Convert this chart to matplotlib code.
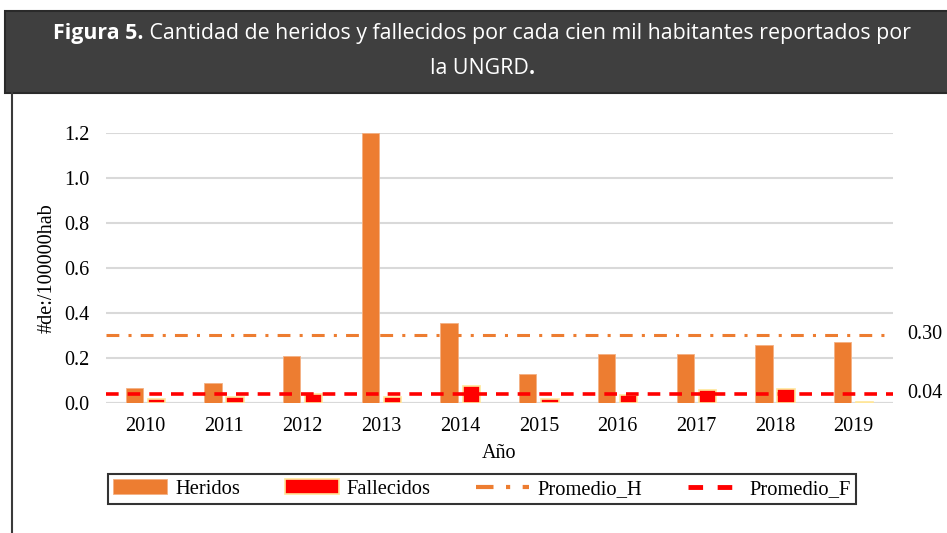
import numpy as np
import matplotlib.pyplot as plt
from matplotlib.patches import Rectangle
from matplotlib.lines import Line2D

# data
years = ["2010", "2011", "2012", "2013", "2014", "2015", "2016", "2017", "2018", "2019"]
heridos = [0.067, 0.089, 0.21, 1.20, 0.355, 0.13, 0.22, 0.22, 0.26, 0.27]
fallecidos = [0.016, 0.027, 0.039, 0.028, 0.074, 0.019, 0.034, 0.056, 0.061, 0.006]
promedio_h = 0.304
promedio_f = 0.04
right_labels = ["0.30", "0.04"]

orange = "#ED7D31"
red = "#FF0000"
serif = ["Liberation Serif", "DejaVu Serif"]
title_font = ["Open Sans", "DejaVu Sans"]

fig = plt.figure(figsize=(9.47, 5.33), dpi=100)
W, H = 947, 533

# header band
fig.patches.append(Rectangle((5 / W, 1 - 93 / H), 1, 82 / H, transform=fig.transFigure,
                             facecolor="#3F3F3F", edgecolor="#2A2A2A", lw=1.5))
# left border line
fig.add_artist(Line2D([12 / W, 12 / W], [0, 1 - 93 / H], transform=fig.transFigure,
                      color="#3A3A3A", lw=1.5))

# title: bold prefix + regular text, centred as one line, sized to the reference width
fs = 15.4
tb = fig.text(0, 1 - 34 / H, "Figura 5.", color="white", fontsize=fs,
              family=title_font, weight="bold", ha="left", va="center")
tr = fig.text(0, 1 - 34 / H,
              " Cantidad de heridos y fallecidos por cada cien mil habitantes reportados por",
              color="white", fontsize=fs, family=title_font, ha="left", va="center")
fig.canvas.draw()
wb = tb.get_window_extent().width
wr = tr.get_window_extent().width
x0 = 482 - (wb + wr) / 2
tb.set_x(x0 / W)
tr.set_x((x0 + wb) / W)

t2a = fig.text(0, 1 - 69 / H, "la UNGRD", color="white", fontsize=fs,
               family=title_font, ha="left", va="center")
t2b = fig.text(0, 1 - 69 / H, ".", color="white", fontsize=fs,
               family=title_font, weight="bold", ha="left", va="center")
fig.canvas.draw()
wa = t2a.get_window_extent().width
wd = t2b.get_window_extent().width
x1 = 482 - (wa + wd) / 2
t2a.set_x(x1 / W)
t2b.set_x((x1 + wa) / W)

ax = fig.add_axes([106 / W, 1 - 403 / H, 787 / W, 270 / H])
x = np.arange(len(years))
w = 0.22
b1 = ax.bar(x - 0.14, heridos, w, color=orange, edgecolor="#F4B183", lw=0.6, zorder=2)
b2 = ax.bar(x + 0.14, fallecidos, w, color=red, edgecolor="#FFE699", lw=1.2, zorder=2)
l1 = ax.axhline(promedio_h, color=orange, lw=2.2, ls=(0, (4.2, 3, 1, 3)), zorder=3)
l2 = ax.axhline(promedio_f, color=red, lw=2.6, ls=(0, (3.5, 2.5)), zorder=3)

ax.set_xlim(-0.5, 9.5)
ax.set_ylim(0, 1.2)
yt = np.arange(0, 1.21, 0.2)
ax.set_yticks(yt)
ax.set_yticklabels([f"{v:.1f}" for v in yt], family=serif, fontsize=14.5)
ax.set_xticks(x)
ax.set_xticklabels(years, family=serif, fontsize=14.5)
ax.tick_params(length=0)
ax.tick_params(axis="x", pad=10)
ax.tick_params(axis="y", pad=12)
ax.grid(axis="y", color="#D9D9D9", lw=1.5, zorder=0)
ax.set_axisbelow(True)
for s in ax.spines.values():
    s.set_visible(False)
ax.axhline(0, color="#D9D9D9", lw=1.5, zorder=1)
ax.set_xlabel("Año", family=serif, fontsize=14.5, labelpad=6)
ax.set_ylabel("#de:/100000hab", family=serif, fontsize=14.5, labelpad=5)

for lab, val in zip(right_labels, [promedio_h, promedio_f]):
    ax.annotate(lab, xy=(907 / W, val), xycoords=("figure fraction", "data"),
                family=serif, fontsize=14.5, va="center", ha="left", annotation_clip=False)

h_dash = Line2D([], [], color=orange, lw=3, ls=(0, (4.2, 3, 1, 3)))
f_dash = Line2D([], [], color=red, lw=3.5, ls=(0, (3, 3)))
leg = fig.legend([b1, b2, h_dash, f_dash], ["Heridos", "Fallecidos", "Promedio_H", "Promedio_F"],
                 loc="center", bbox_to_anchor=(482 / W, 1 - 489 / H), ncol=4,
                 prop={"family": serif, "size": 14.8}, frameon=True, fancybox=False,
                 handlelength=2.6, handletextpad=0.4, columnspacing=2.2, borderpad=0.25,
                 borderaxespad=0)
leg.get_frame().set_edgecolor("black")
leg.get_frame().set_linewidth(1.5)

fig.savefig("out.png", dpi=100)
